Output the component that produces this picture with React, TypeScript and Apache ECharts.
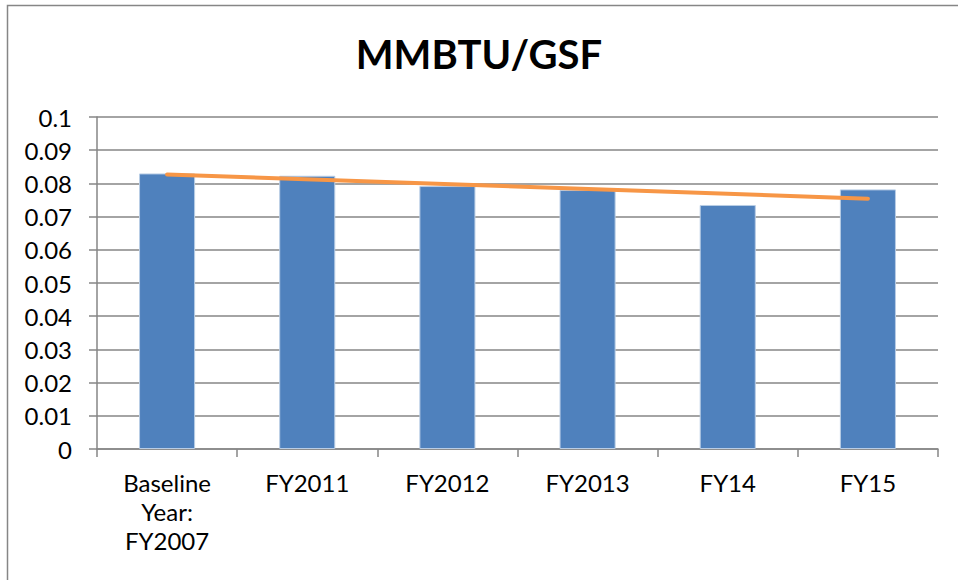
import React, { useEffect, useRef } from "react";
import * as echarts from "echarts";

const categories = ["Baseline\nYear:\nFY2007", "FY2011", "FY2012", "FY2013", "FY14", "FY15"];
const barValues = [0.083, 0.0823, 0.0792, 0.078, 0.0735, 0.0782];
// linear trendline endpoints
const trendValues: (number | string)[] = [0.0827, "-", "-", "-", "-", "-"];
trendValues[5] = 0.0754;
const yTicks = [0, 0.01, 0.02, 0.03, 0.04, 0.05, 0.06, 0.07, 0.08, 0.09, 0.1];

const FONT = "Lato, 'Open Sans', sans-serif";

export default function App() {
  const ref = useRef<HTMLDivElement>(null);
  useEffect(() => {
    if (!ref.current) return;
    const chart = echarts.init(ref.current, null, { renderer: "svg" });
    chart.setOption({
      animation: false,
      backgroundColor: "#ffffff",
      title: {
        text: "MMBTU/GSF",
        left: "center",
        top: 29,
        textStyle: { fontFamily: FONT, fontSize: 40, fontWeight: "bold", color: "#000" },
      },
      graphic: [
        {
          type: "rect",
          shape: { x: 7.5, y: 5.5, width: 1200, height: 1000 },
          style: { fill: "none", stroke: "#868686", lineWidth: 1.5 },
          silent: true,
        },
      ],
      grid: { left: 97, right: 20, top: 117, bottom: 131 },
      xAxis: {
        type: "category",
        data: categories,
        axisLine: { lineStyle: { color: "#868686", width: 1.5 } },
        axisTick: { show: true, length: 8, alignWithLabel: false, lineStyle: { color: "#868686", width: 1.5 } },
        axisLabel: {
          fontFamily: FONT,
          fontSize: 24,
          color: "#000",
          lineHeight: 29,
          margin: 19,
          interval: 0,
        },
      },
      yAxis: {
        type: "value",
        min: 0,
        max: 0.1,
        interval: 0.01,
        axisLine: { show: true, lineStyle: { color: "#868686", width: 1.5 } },
        axisTick: { show: true, length: 8, lineStyle: { color: "#868686", width: 1.5 } },
        splitLine: { show: true, lineStyle: { color: "#868686", width: 1.5 } },
        axisLabel: {
          fontFamily: FONT,
          fontSize: 24,
          color: "#000",
          margin: 25,
          formatter: (v: number) => {
            const t = yTicks.find((x) => Math.abs(x - v) < 1e-9);
            return String(Math.round((t ?? v) * 100) / 100);
          },
        },
      },
      series: [
        {
          type: "bar",
          data: barValues,
          barWidth: "40%",
          itemStyle: { color: "#4F81BD", borderColor: "#B9CDE5", borderWidth: 1 },
        },
        {
          type: "line",
          data: trendValues,
          connectNulls: true,
          symbol: "none",
          lineStyle: { color: "#F79646", width: 4, cap: "round" },
        },
      ],
    });
    return () => chart.dispose();
  }, []);
  return (
    <div
      ref={ref}
      style={{ position: "absolute", left: 0, top: 0, width: 958, height: 580 }}
    />
  );
}
